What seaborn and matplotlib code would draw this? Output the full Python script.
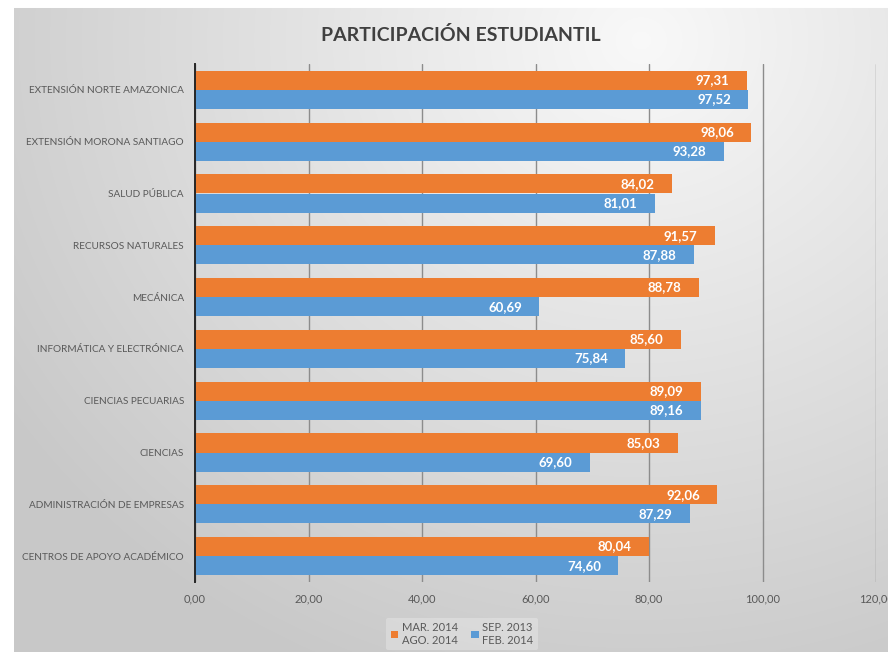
import numpy as np
import pandas as pd
import matplotlib
matplotlib.use("Agg")
import matplotlib.pyplot as plt
import seaborn as sns

# datos
carreras = ["EXTENSIÓN NORTE AMAZONICA", "EXTENSIÓN MORONA SANTIAGO", "SALUD PÚBLICA",
            "RECURSOS NATURALES", "MECÁNICA", "INFORMÁTICA Y ELECTRÓNICA",
            "CIENCIAS PECUARIAS", "CIENCIAS", "ADMINISTRACIÓN DE EMPRESAS",
            "CENTROS DE APOYO ACADÉMICO"]
periodos = ["MAR. 2014\nAGO. 2014", "SEP. 2013\nFEB. 2014"]
mar_ago_2014 = [97.31, 98.06, 84.02, 91.57, 88.78, 85.60, 89.09, 85.03, 92.06, 80.04]
sep13_feb14 = [97.52, 93.28, 81.01, 87.88, 60.69, 75.84, 89.16, 69.60, 87.29, 74.60]
ticks = [0, 20, 40, 60, 80, 100, 120]
colores = ["#ED7D31", "#5B9BD5"]

df = pd.DataFrame({
    "carrera": carreras * 2,
    "periodo": [periodos[0]] * len(carreras) + [periodos[1]] * len(carreras),
    "valor": mar_ago_2014 + sep13_feb14,
})

sns.set_style("white")
plt.rcParams['font.family'] = ['Lato', 'DejaVu Sans']

fig = plt.figure(figsize=(8.88, 6.52), dpi=100)
W, H = 888, 652

# fondo con degradado radial
bg = fig.add_axes([0, 0, 1, 1], zorder=-10)
yy, xx = np.mgrid[0:H, 0:W]
d = np.sqrt((xx - 640) ** 2 + ((yy - 40) * 1.1) ** 2) / 760.0
g = 0.975 - 0.19 * np.clip(d, 0, 1)
img = np.dstack([g, g, g])
img[:8, :, :] = 1.0
img[:, :14, :] = 1.0
bg.imshow(img, aspect="auto", extent=[0, 1, 0, 1], origin="upper")
bg.axis("off")

ax = fig.add_axes([195 / W, 1 - 582 / H, (876 - 195) / W, (582 - 64) / H])
ax.patch.set_alpha(0)

sns.barplot(data=df, x="valor", y="carrera", hue="periodo", order=carreras,
            hue_order=periodos, palette=colores, orient="h", width=0.74,
            saturation=1, linewidth=0, ax=ax, legend=True)

for cont in ax.containers:
    ax.bar_label(cont, labels=[f"{b.get_width():.2f}".replace(".", ",") for b in cont],
                 label_type="edge", padding=-37, color="white", fontweight="bold",
                 fontsize=9.5)

ax.set_xlim(0, 120)
ax.set_xticks(ticks)
ax.set_xticklabels([f"{t:.2f}".replace(".", ",") for t in ticks], fontsize=8, color="#595959")
ax.tick_params(axis="y", labelsize=7.2, labelcolor="#595959", length=0, pad=8)
ax.tick_params(axis="x", length=0, pad=8)
ax.set_xlabel("")
ax.set_ylabel("")
ax.xaxis.grid(True, color="#8c8c8c", linewidth=1)
ax.set_axisbelow(True)
for s in ["top", "right", "bottom"]:
    ax.spines[s].set_visible(False)
ax.spines["left"].set_color("#262626")
ax.spines["left"].set_linewidth(1.4)

handles, labels = ax.get_legend_handles_labels()
ax.get_legend().remove()
leg = fig.legend(handles, labels, loc="upper center", bbox_to_anchor=(462 / W, 1 - 612 / H),
                 ncol=2, fontsize=8, frameon=True, handlelength=0.7, handleheight=0.7,
                 handletextpad=0.3, columnspacing=1.2, borderpad=0.4)
leg.get_frame().set_facecolor("white")
leg.get_frame().set_alpha(0.25)
leg.get_frame().set_edgecolor("none")
for t in leg.get_texts():
    t.set_color("#595959")

fig.text(461 / W, 1 - 35 / H, "PARTICIPACIÓN ESTUDIANTIL", ha="center", va="center",
         fontsize=14, fontweight="bold", color="#404040")

fig.savefig("out.png", dpi=100)
